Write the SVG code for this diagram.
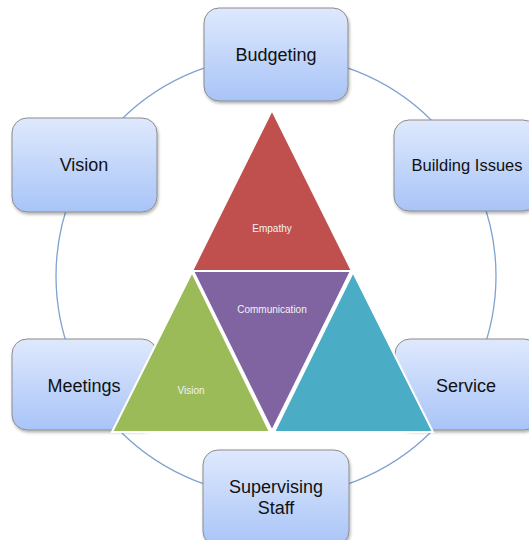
<svg xmlns="http://www.w3.org/2000/svg" width="529" height="540" viewBox="0 0 529 540">
<defs>
<linearGradient id="bg" x1="0" y1="0" x2="0" y2="1">
<stop offset="0" stop-color="#dfe9fd"/>
<stop offset="1" stop-color="#a8c4f7"/>
</linearGradient>
<filter id="sh" x="-10%" y="-10%" width="125%" height="125%">
<feDropShadow dx="1" dy="2" stdDeviation="1.5" flood-color="#000" flood-opacity="0.3"/>
</filter>
</defs>
<style>
.box{fill:url(#bg);stroke:#8c8c8c;stroke-width:1;filter:url(#sh)}
.lbl{font-family:"Liberation Sans",Arial,sans-serif;font-size:18px;fill:#111;text-anchor:middle}
.tri{stroke:#fff;stroke-width:2;stroke-linejoin:miter}
.tl{font-family:"Liberation Sans",Arial,sans-serif;font-size:10px;fill:#f2f2f2;text-anchor:middle}
</style>
<rect width="529" height="540" fill="#fff"/>
<g id="connectors">
<circle cx="276" cy="276" r="220" fill="none" stroke="#7fa2cf" stroke-width="1.3"/>
</g>
<g id="budgeting"><rect class="box" x="204" y="8" width="144" height="93" rx="15"/><text class="lbl" x="276" y="61">Budgeting</text></g>
<g id="building-issues"><rect class="box" x="394" y="120" width="144" height="91" rx="15"/><text class="lbl" x="467" y="171" style="font-size:16.5px">Building Issues</text></g>
<g id="vision"><rect class="box" x="12" y="118" width="145" height="94" rx="15"/><text class="lbl" x="84" y="171">Vision</text></g>
<g id="meetings"><rect class="box" x="12" y="339" width="145" height="91" rx="15"/><text class="lbl" x="84" y="392">Meetings</text></g>
<g id="service"><rect class="box" x="395" y="339" width="144" height="91" rx="15"/><text class="lbl" x="466" y="392">Service</text></g>
<g id="supervising-staff"><rect class="box" x="203" y="450" width="146" height="96" rx="15"/><text class="lbl" x="276" y="493">Supervising</text><text class="lbl" x="276" y="514">Staff</text></g>
<g id="pyramid">
<g id="empathy"><polygon class="tri" points="272,110 352,271 192,271" fill="#c0504d"/><text class="tl" x="272" y="232">Empathy</text></g>
<g id="communication"><polygon class="tri" points="193,271 351,271 272,431" fill="#8064a2"/><text class="tl" x="272" y="313">Communication</text></g>
<g id="vision-tri"><polygon class="tri" points="192,272 270,432 112,432" fill="#9bbb59"/><text class="tl" x="191" y="394">Vision</text></g>
<g id="teal-tri"><polygon class="tri" points="353,272 433,432 274,432" fill="#4bacc6"/></g>
</g>
</svg>
